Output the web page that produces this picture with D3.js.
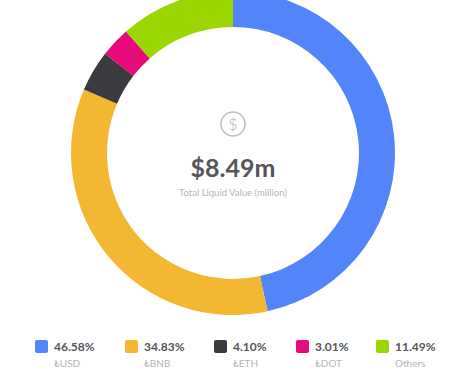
<!DOCTYPE html>
<html>
<head>
<meta charset="utf-8">
<script src="https://cdn.jsdelivr.net/npm/d3@7"></script>
<style>
    html, body { margin: 0; padding: 0; background: #fff; }
    svg { display: block; }
    text { font-family: Lato, "Open Sans", sans-serif; }
</style>
</head>
<body>
<script>
// Chart data
const categories = ["₺USD", "₺BNB", "₺ETH", "₺DOT", "Others"];
const shares = [46.58, 34.83, 4.10, 3.01, 11.49];
const colours = ["#5285fa", "#f4b731", "#3b3a3e", "#e80a7b", "#9cd600"];
const totalLabel = "$8.49m";
const totalCaption = "Total Liquid Value (million)";

const width = 469;
const height = 381;

const svg = d3.select("body")
    .append("svg")
    .attr("width", width)
    .attr("height", height);

// Donut
const donut = svg.append("g")
    .attr("transform", "translate(233, 153)");

const pie = d3.pie().sort(null);
const arc = d3.arc().innerRadius(126).outerRadius(162);

donut.selectAll("path")
    .data(pie(shares))
    .join("path")
    .attr("d", arc)
    .attr("fill", (d, i) => colours[i]);

// Coin icon in the middle
donut.append("circle")
    .attr("cy", -29)
    .attr("r", 12)
    .attr("fill", "none")
    .attr("stroke", "#bdbdbd")
    .attr("stroke-width", 1.5);

donut.append("text")
    .attr("y", -23.5)
    .attr("text-anchor", "middle")
    .attr("font-size", 16)
    .attr("font-weight", 300)
    .attr("fill", "#b0b0b0")
    .text("$");

donut.append("text")
    .attr("y", 24)
    .attr("text-anchor", "middle")
    .attr("font-size", 25)
    .attr("font-weight", 700)
    .attr("fill", "#55555a")
    .text(totalLabel);

donut.append("text")
    .attr("y", 43)
    .attr("text-anchor", "middle")
    .attr("font-size", 9.5)
    .attr("fill", "#b5b5b5")
    .text(totalCaption);

// Legend, items are not evenly spaced in the original
const legendX = d3.scaleOrdinal()
    .domain(categories)
    .range([35, 125, 214, 296, 376]);

const legend = svg.selectAll(".legend")
    .data(categories)
    .join("g")
    .attr("class", "legend")
    .attr("transform", (d) => `translate(${legendX(d)}, 340)`);

legend.append("rect")
    .attr("width", 13)
    .attr("height", 13)
    .attr("rx", 2)
    .attr("fill", (d, i) => colours[i]);

legend.append("text")
    .attr("x", 19)
    .attr("y", 11)
    .attr("font-size", 12)
    .attr("font-weight", 700)
    .attr("fill", "#55555a")
    .text((d, i) => shares[i].toFixed(2) + "%");

legend.append("text")
    .attr("x", 19)
    .attr("y", 27)
    .attr("font-size", 10)
    .attr("fill", "#b5b5b5")
    .text((d) => d);
</script>
</body>
</html>
